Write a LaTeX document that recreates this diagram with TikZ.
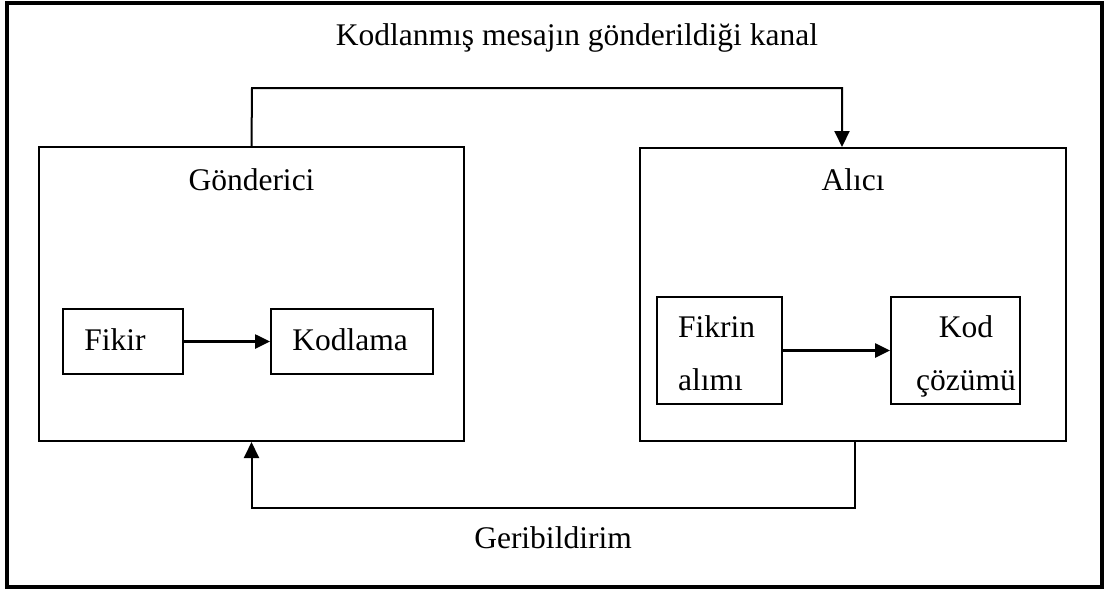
\documentclass[tikz,border=0pt]{standalone}
\usepackage{fontspec}
\setmainfont{Liberation Serif}
\usetikzlibrary{arrows.meta}
\begin{document}
\begin{tikzpicture}[x=1pt,y=-1pt,
  box/.style={draw, line width=2pt, inner sep=0pt},
  lbl/.style={font=\fontsize{31.5}{53}\selectfont, anchor=base, inner sep=0pt},
  arr/.style={line width=2pt, -{Triangle[length=16pt,width=15pt]}},
  inarr/.style={line width=2.6pt, -{Triangle[length=15pt,width=14pt]}}]
\useasboundingbox (0,0) rectangle (1107,590);
\node[draw, line width=4.5pt, minimum width=1095pt, minimum height=584pt, inner sep=0pt] (frame) at (554.5,295) {};
% main boxes
\node[box, minimum width=425pt, minimum height=294pt] (gond) at (251.5,294) {};
\node[box, minimum width=426pt, minimum height=293pt] (alici) at (853,294.5) {};
% inner boxes
\node[box, minimum width=120pt, minimum height=65pt] (fikir) at (123,341.5) {};
\node[box, minimum width=162pt, minimum height=65pt] (kodlama) at (352,341.5) {};
\node[box, minimum width=125pt, minimum height=107pt] (alim) at (719.5,350.5) {};
\node[box, minimum width=129pt, minimum height=107pt] (cozum) at (955.5,350.5) {};
% labels
\node[lbl] (tch) at (577,45) {Kodlanmış mesajın gönderildiği kanal};
\node[lbl] (tgond) at (251.5,190) {Gönderici};
\node[lbl] (talici) at (853,190) {Alıcı};
\node[lbl] (tfb) at (553,548) {Geribildirim};
\node[lbl] (tfikir) at (115,350) {Fikir};
\node[lbl] (tkod) at (350,350) {Kodlama};
\node[lbl, anchor=base west, align=left] (talim) at (678,390) {Fikrin\\alımı};
\node[lbl, align=center] (tcozum) at (966,390) {Kod\\çözümü};
% connectors
\coordinate (chL) at (252,88);
\coordinate (chR) at (842,88);
\draw[arr] (gond.north) -- (chL) -- (chR) -- (chR |- alici.north);
\coordinate (fbR) at (855,508);
\draw[arr] (fbR |- alici.south) -- (fbR) -| (gond.south);
\draw[inarr] (fikir) -- (kodlama);
\draw[inarr] (alim) -- (cozum);
\end{tikzpicture}
\end{document}
